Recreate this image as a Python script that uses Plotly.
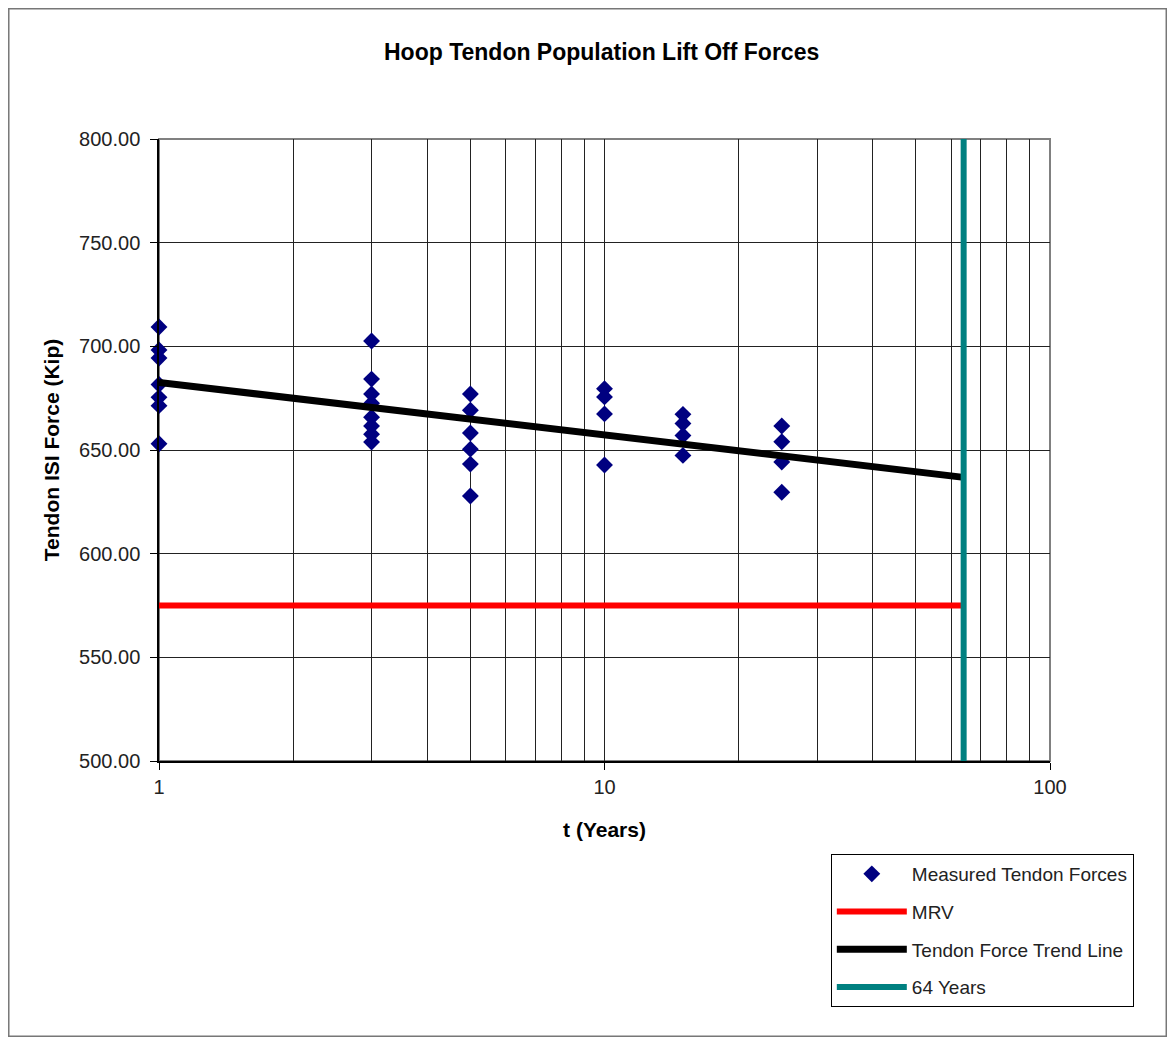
import plotly.graph_objects as go

# Measured tendon lift-off forces (Kip) by time (years)
meas_t = [1, 1, 1, 1, 1, 1, 1,
          3, 3, 3, 3, 3, 3, 3, 3,
          5, 5, 5, 5, 5, 5,
          10, 10, 10, 10,
          15, 15, 15, 15,
          25, 25, 25, 25]
meas_force = [709.3, 698.2, 694.4, 681.6, 675.4, 671.4, 653.0,
              702.6, 684.2, 677.0, 672.6, 665.8, 661.6, 657.6, 653.8,
              677.0, 669.2, 658.2, 650.4, 643.2, 627.8,
              679.6, 675.6, 667.4, 642.8,
              667.2, 662.8, 657.0, 647.4,
              661.6, 654.0, 644.2, 629.6]

trend_t = [1, 64]
trend_force = [682.6, 636.8]

mrv_t = [1, 64]
mrv_force = [575, 575]

years64_t = [64, 64]
years64_force = [500, 800]

y_ticks = [500, 550, 600, 650, 700, 750, 800]
x_major = [1, 10, 100]
x_minor = [2, 3, 4, 5, 6, 7, 8, 9, 20, 30, 40, 50, 60, 70, 80, 90]

FONT = "Liberation Sans, Arial, sans-serif"

fig = go.Figure()
fig.add_trace(go.Scatter(
    x=meas_t, y=meas_force, mode="markers", name="Measured Tendon Forces",
    marker=dict(symbol="diamond", size=13, color="#000080"),
    cliponaxis=False, legendgroup="a"))
fig.add_trace(go.Scatter(
    x=mrv_t, y=mrv_force, mode="lines", name="MRV",
    line=dict(color="#FF0000", width=6), legendgroup="b"))
fig.add_trace(go.Scatter(
    x=trend_t, y=trend_force, mode="lines", name="Tendon Force Trend Line",
    line=dict(color="#000000", width=7), legendgroup="c"))
fig.add_trace(go.Scatter(
    x=years64_t, y=years64_force, mode="lines", name="64 Years",
    line=dict(color="#008080", width=6), legendgroup="d"))

fig.update_layout(
    width=1159, height=1029,
    margin=dict(l=151, r=117, t=131, b=276),
    paper_bgcolor="white", plot_bgcolor="white",
    font=dict(family=FONT, size=20, color="#000000"),
    showlegend=True,
    legend=dict(
        x=0.754, y=-0.1495, xanchor="left", yanchor="top",
        bordercolor="#000000", borderwidth=1,
        font=dict(family=FONT, size=19, color="#222222"),
        tracegroupgap=10, itemwidth=70),
    annotations=[dict(
        text="<b>Hoop Tendon Population Lift Off Forces</b>",
        xref="paper", yref="paper", x=0.497, y=1.14,
        xanchor="center", yanchor="middle", showarrow=False,
        font=dict(family=FONT, size=23, color="#000000"))],
    shapes=[
        dict(type="rect", xref="paper", yref="paper", x0=0, x1=1, y0=0, y1=1,
             line=dict(color="#808080", width=2), layer="between"),
        dict(type="rect", xref="paper", yref="paper",
             x0=-0.1686, x1=1.1305, y0=-0.4425, y1=1.2094,
             line=dict(color="#777777", width=1.5)),
    ],
)

fig.update_xaxes(
    type="log", range=[0, 2],
    tickmode="array", tickvals=x_major, ticktext=["1", "10", "100"],
    ticks="outside", ticklen=7, tickcolor="#000000",
    showgrid=True, gridcolor="#222222", gridwidth=1,
    minor=dict(tickmode="array", tickvals=x_minor, showgrid=True,
               gridcolor="#222222", gridwidth=1, ticks=""),
    showline=True, linecolor="#000000", linewidth=1.5,
    zeroline=False,
    tickfont=dict(family=FONT, size=20, color="#222222"),
    title=dict(text="<b>t (Years)</b>", standoff=26,
               font=dict(family=FONT, size=21, color="#000000")),
)
fig.update_yaxes(
    range=[500, 800], tickmode="array", tickvals=y_ticks, tickformat=".2f",
    ticks="outside", ticklen=7, tickcolor="#000000",
    ticklabelstandoff=6,
    showgrid=True, gridcolor="#222222", gridwidth=1,
    showline=True, linecolor="#000000", linewidth=1.5,
    zeroline=False,
    tickfont=dict(family=FONT, size=20, color="#222222"),
    title=dict(text="<b>Tendon ISI Force (Kip)</b>", standoff=14,
               font=dict(family=FONT, size=21, color="#000000")),
)

fig.write_html("out.html")
